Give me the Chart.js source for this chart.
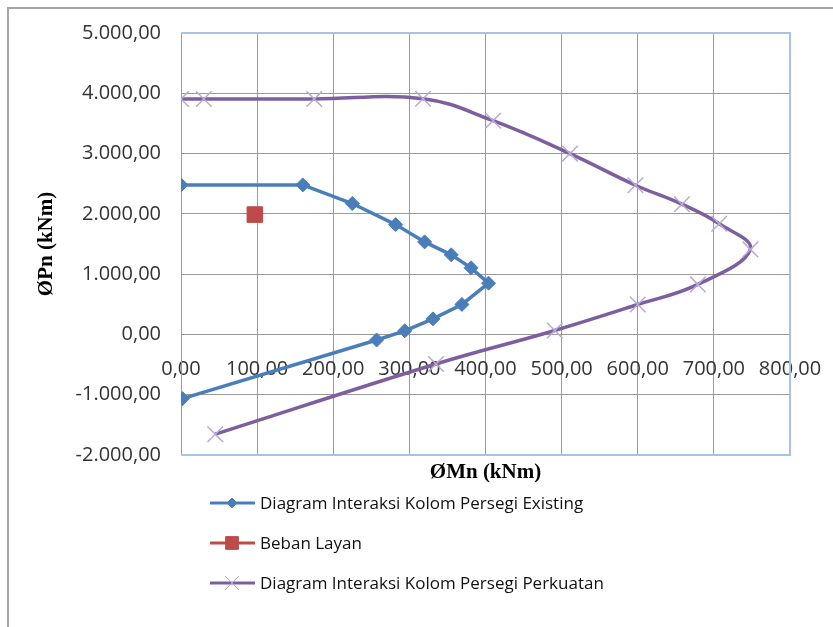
<!DOCTYPE html>
<html>
<head>
<meta charset="utf-8">
<script src="https://cdn.jsdelivr.net/npm/chart.js@4.4.1/dist/chart.umd.min.js"></script>
<style>
  html, body { margin: 0; padding: 0; background: #fff; }
  #wrap { position: relative; width: 833px; height: 627px; overflow: hidden; }
  #frame { position: absolute; left: 7px; top: 7px; width: 900px; height: 700px;
           border-left: 2px solid #a6a6a6; border-top: 2px solid #a6a6a6; }
  canvas { position: absolute; left: 0; top: 0; }
</style>
</head>
<body>
<div id="wrap">
  <div id="frame"></div>
  <canvas id="chart" width="833" height="627"></canvas>
</div>
<script>
// Diagram interaksi kolom (ØMn vs ØPn)
const existingMn = [0, 160, 225, 282, 320, 355, 381, 404, 369, 331, 294, 257, 2];
const existingPn = [2480, 2480, 2172, 1822, 1535, 1320, 1105, 850, 497, 258, 60, -92, -1065];

const bebanMn = [97];
const bebanPn = [1988];

const perkuatanMn = [0, 30, 175, 318, 410, 511, 597, 658, 707, 748, 679, 600, 491, 335, 45];
const perkuatanPn = [3905, 3905, 3905, 3910, 3545, 3000, 2475, 2160, 1835, 1410, 830, 497, 66, -490, -1655];

const labels = [
    'Diagram Interaksi Kolom Persegi Existing',
    'Beban Layan',
    'Diagram Interaksi Kolom Persegi Perkuatan'
];

function toPoints(xs, ys) {
    return xs.map((x, i) => ({ x: x, y: ys[i] }));
}

// format 1.000,00
function fmt(v) {
    const neg = v < 0;
    const s = Math.abs(v).toFixed(2).split('.');
    const int = s[0].replace(/\B(?=(\d{3})+(?!\d))/g, '.');
    return (neg ? '-' : '') + int + ',' + s[1];
}

const tickFont = { family: 'Open Sans', size: 20 };

// garis tepi plot + judul sumbu x + legenda
const extras = {
    id: 'extras',
    beforeDatasetsDraw(chart) {
        const { ctx, chartArea: a } = chart;
        ctx.save();
        ctx.strokeStyle = '#a7c2e3';
        ctx.lineWidth = 2;
        ctx.beginPath();
        ctx.moveTo(a.left, a.top);
        ctx.lineTo(a.right, a.top);
        ctx.lineTo(a.right, a.bottom);
        ctx.lineTo(a.left, a.bottom);
        ctx.stroke();
        ctx.restore();
    },
    afterDraw(chart) {
        const { ctx, chartArea: a } = chart;
        ctx.save();
        ctx.fillStyle = '#000';
        ctx.font = 'bold 21px "Liberation Serif"';
        ctx.textAlign = 'center';
        ctx.textBaseline = 'middle';
        ctx.fillText('ØMn (kNm)', (a.left + a.right) / 2, 473);

        ctx.font = '17px "Open Sans"';
        ctx.textAlign = 'left';
        chart.data.datasets.forEach((ds, i) => {
            const y = 503 + i * 40;
            ctx.strokeStyle = ds.borderColor;
            ctx.lineWidth = 3;
            ctx.beginPath();
            ctx.moveTo(210, y);
            ctx.lineTo(255, y);
            ctx.stroke();
            ctx.fillStyle = ds.pointBackgroundColor;
            ctx.strokeStyle = ds.pointBorderColor;
            ctx.lineWidth = 1;
            Chart.helpers.drawPoint(ctx, {
                pointStyle: ds.pointStyle,
                radius: ds.legendRadius,
                borderWidth: 1,
                rotation: 0
            }, 232, y);
            ctx.fillStyle = '#111';
            ctx.fillText(ds.label, 260, y + 1);
        });
        ctx.restore();
    }
};

const ctx = document.getElementById('chart').getContext('2d');
new Chart(ctx, {
    type: 'scatter',
    data: {
        datasets: [
            {
                label: labels[0],
                data: toPoints(existingMn, existingPn),
                showLine: true,
                borderColor: '#4a7ebb',
                borderWidth: 3.5,
                pointStyle: 'rectRot',
                pointRadius: 7,
                pointBackgroundColor: '#4a7ebb',
                pointBorderColor: '#4a7ebb',
                pointBorderWidth: 1,
                legendRadius: 5,
                tension: 0
            },
            {
                label: labels[1],
                data: toPoints(bebanMn, bebanPn),
                showLine: false,
                borderColor: '#be4b48',
                pointStyle: 'rect',
                pointRadius: 11,
                pointBackgroundColor: '#be4b48',
                pointBorderColor: '#be4b48',
                pointBorderWidth: 1,
                legendRadius: 9
            },
            {
                label: labels[2],
                data: toPoints(perkuatanMn, perkuatanPn),
                showLine: true,
                borderColor: '#7d5fa0',
                borderWidth: 3.5,
                pointStyle: 'crossRot',
                pointRadius: 11,
                pointBackgroundColor: '#b9a9d6',
                pointBorderColor: '#b9a9d6',
                pointBorderWidth: 1.5,
                legendRadius: 10,
                tension: 0.4
            }
        ]
    },
    options: {
        responsive: false,
        animation: false,
        layout: { padding: { left: 0, top: 33, right: 43, bottom: 172 } },
        plugins: {
            legend: { display: false },
            tooltip: { enabled: false }
        },
        scales: {
            x: {
                type: 'linear',
                position: { y: 0 },
                min: 0,
                max: 800,
                ticks: {
                    stepSize: 100,
                    font: tickFont,
                    color: '#333',
                    padding: 0,
                    maxRotation: 0,
                    callback: (v) => fmt(v)
                },
                grid: { color: '#9a9a9a', lineWidth: 1, drawTicks: true, tickLength: 23, tickColor: 'rgba(0,0,0,0)' },
                border: { color: '#9a9a9a', width: 1 }
            },
            y: {
                type: 'linear',
                min: -2000,
                max: 5000,
                afterFit(scale) { scale.width = 181; },
                ticks: {
                    stepSize: 1000,
                    font: tickFont,
                    color: '#333',
                    padding: 0,
                    callback: (v) => fmt(v)
                },
                grid: { color: '#9a9a9a', lineWidth: 1, drawTicks: true, tickLength: 20, tickColor: 'rgba(0,0,0,0)' },
                border: { color: '#9a9a9a', width: 1 },
                title: {
                    display: true,
                    text: 'ØPn (kNm)',
                    font: { family: 'Liberation Serif', size: 21, weight: 'bold' },
                    color: '#000',
                    padding: { top: 34, bottom: 0 }
                }
            }
        }
    },
    plugins: [extras]
});
</script>
</body>
</html>
